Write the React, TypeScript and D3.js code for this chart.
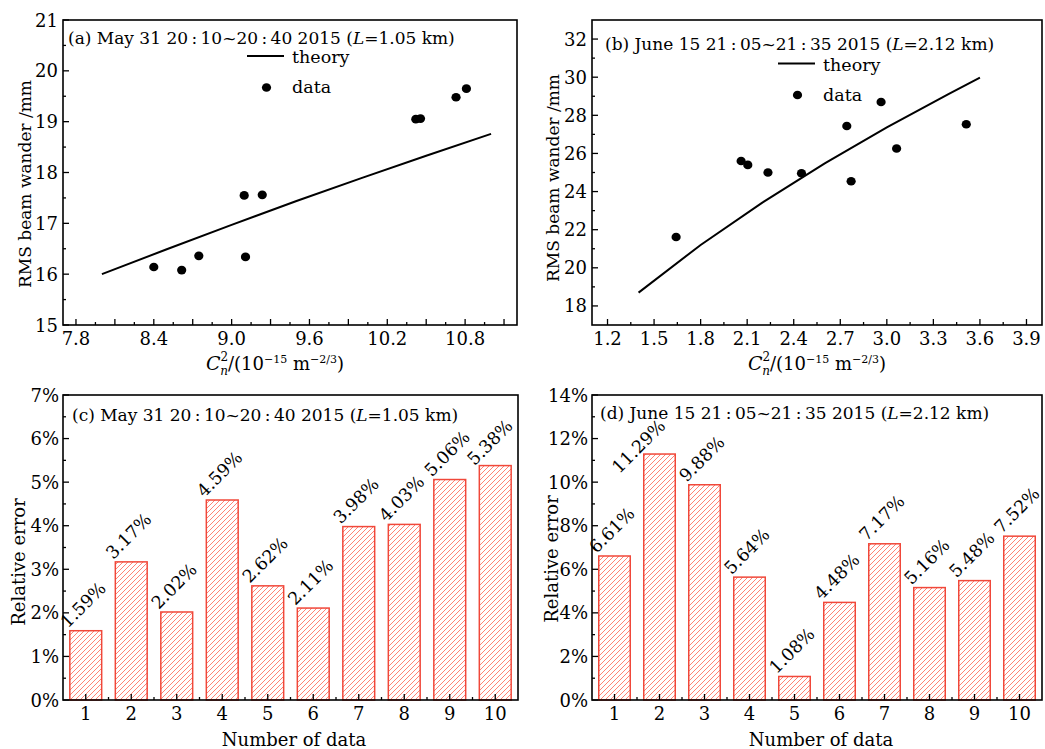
import React from 'react';
import * as d3 from 'd3';

// ---------- Data ----------
const panelAPointX = [8.40, 8.615, 8.747, 9.097, 9.107, 9.236, 10.42, 10.456, 10.73, 10.81];
const panelAPointY = [16.14, 16.08, 16.36, 17.55, 16.34, 17.56, 19.05, 19.06, 19.48, 19.65];
const panelATheoryX = [8.0, 8.5, 9.0, 9.5, 10.0, 10.5, 11.0];
const panelATheoryY = [16.0, 16.49, 16.97, 17.44, 17.89, 18.33, 18.76];

const panelBPointX = [1.642, 2.061, 2.104, 2.234, 2.45, 2.742, 2.77, 2.963, 3.063, 3.512];
const panelBPointY = [21.62, 25.6, 25.4, 25.0, 24.96, 27.44, 24.54, 28.7, 26.26, 27.53];
const panelBTheoryX = [1.4, 1.8, 2.2, 2.6, 3.0, 3.4, 3.6];
const panelBTheoryY = [18.7, 21.2, 23.43, 25.48, 27.37, 29.13, 29.98];

const dataNumbers = [1, 2, 3, 4, 5, 6, 7, 8, 9, 10];
const panelCErrors = [1.59, 3.17, 2.02, 4.59, 2.62, 2.11, 3.98, 4.03, 5.06, 5.38];
const panelDErrors = [6.61, 11.29, 9.88, 5.64, 1.08, 4.48, 7.17, 5.16, 5.48, 7.52];

// tick values
const aXLabels = [7.8, 8.4, 9.0, 9.6, 10.2, 10.8];
const aXMajor = [7.8, 8.1, 8.4, 8.7, 9.0, 9.3, 9.6, 9.9, 10.2, 10.5, 10.8, 11.1];
const aXMinor = [7.95, 8.25, 8.55, 8.85, 9.15, 9.45, 9.75, 10.05, 10.35, 10.65, 10.95];
const aYLabels = [15, 16, 17, 18, 19, 20, 21];
const aYMinor = [15.5, 16.5, 17.5, 18.5, 19.5, 20.5];

const bXLabels = [1.2, 1.5, 1.8, 2.1, 2.4, 2.7, 3.0, 3.3, 3.6, 3.9];
const bXMinor = [1.35, 1.65, 1.95, 2.25, 2.55, 2.85, 3.15, 3.45, 3.75];
const bYLabels = [18, 20, 22, 24, 26, 28, 30, 32];
const bYMinor = [19, 21, 23, 25, 27, 29, 31];

const cYLabels = [0, 1, 2, 3, 4, 5, 6, 7];
const cYMinor = [0.5, 1.5, 2.5, 3.5, 4.5, 5.5, 6.5];
const dYLabels = [0, 2, 4, 6, 8, 10, 12, 14];
const dYMinor = [1, 3, 5, 7, 9, 11, 13];
const barXMinor = [1.5, 2.5, 3.5, 4.5, 5.5, 6.5, 7.5, 8.5, 9.5];

const FONT = 'DejaVu Serif';
const BAR_RED = '#f0483a';
const HATCH_RED = '#ff7565';

type Box = { left: number; right: number; top: number; bottom: number };

function fmt1(v: number) {
  return v.toFixed(1);
}

function Title({ x, y, prefix, lval }: { x: number; y: number; prefix: string; lval: string }) {
  return (
    <text x={x} y={y} fontSize={17} fontFamily={FONT}>
      {prefix}
      <tspan fontStyle="italic">L</tspan>
      {'=' + lval + ' km)'}
    </text>
  );
}

function CnLabel({ x, y }: { x: number; y: number }) {
  return (
    <text x={x} y={y} fontSize={18} fontFamily={FONT} textAnchor="middle">
      <tspan fontStyle="italic" fontSize={19}>C</tspan>
      <tspan fontSize={12} dy={-9}>2</tspan>
      <tspan fontSize={12} fontStyle="italic" dx={-8} dy={14}>n</tspan>
      <tspan dy={-5}>{'/(10'}</tspan>
      <tspan fontSize={11} dy={-7}>{'\u221215'}</tspan>
      <tspan dy={7}>{' m'}</tspan>
      <tspan fontSize={11} dy={-7}>{'\u22122/3'}</tspan>
      <tspan dy={7}>{')'}</tspan>
    </text>
  );
}

type ScatterProps = {
  box: Box;
  xDomain: [number, number];
  yDomain: [number, number];
  xLabels: number[];
  xMajor: number[];
  xMinor: number[];
  yLabels: number[];
  yMinor: number[];
  px: number[];
  py: number[];
  tx: number[];
  ty: number[];
  titlePrefix: string;
  lval: string;
  titleX: number;
  titleY: number;
  legX: number;
  legY: number;
  yLabelX: number;
  yLabelY: number;
  xLabelX: number;
};

function ScatterPanel(p: ScatterProps) {
  const { box } = p;
  const x = d3.scaleLinear().domain(p.xDomain).range([box.left, box.right]);
  const y = d3.scaleLinear().domain(p.yDomain).range([box.bottom, box.top]);
  const line = d3
    .line<number>()
    .x((_, i) => x(p.tx[i]))
    .y((d) => y(d));
  return (
    <g>
      <path d={line(p.ty) || ''} fill="none" stroke="#000" strokeWidth={2} />
      {p.px.map((v, i) => (
        <ellipse key={i} cx={x(v)} cy={y(p.py[i])} rx={4.6} ry={4.3} fill="#000" />
      ))}
      <rect
        x={box.left}
        y={box.top}
        width={box.right - box.left}
        height={box.bottom - box.top}
        fill="none"
        stroke="#000"
        strokeWidth={1.6}
      />
      {p.xMajor.map((v) => (
        <line key={'xM' + v} x1={x(v)} x2={x(v)} y1={box.bottom} y2={box.bottom - 6} stroke="#000" strokeWidth={1.3} />
      ))}
      {p.xMinor.map((v) => (
        <line key={'xm' + v} x1={x(v)} x2={x(v)} y1={box.bottom} y2={box.bottom - 3} stroke="#000" strokeWidth={1.3} />
      ))}
      {p.xLabels.map((v) => (
        <text key={'xl' + v} x={x(v)} y={box.bottom + 20} fontSize={18} fontFamily={FONT} textAnchor="middle">
          {fmt1(v)}
        </text>
      ))}
      {p.yLabels.map((v) => (
        <g key={'yl' + v}>
          <line x1={box.left} x2={box.left + 6} y1={y(v)} y2={y(v)} stroke="#000" strokeWidth={1.3} />
          <text x={box.left - 5} y={y(v) + 6.5} fontSize={18} fontFamily={FONT} textAnchor="end">
            {v}
          </text>
        </g>
      ))}
      {p.yMinor.map((v) => (
        <line key={'ym' + v} x1={box.left} x2={box.left + 3} y1={y(v)} y2={y(v)} stroke="#000" strokeWidth={1.3} />
      ))}
      <Title x={p.titleX} y={p.titleY} prefix={p.titlePrefix} lval={p.lval} />
      <line x1={p.legX} x2={p.legX + 37} y1={p.legY} y2={p.legY} stroke="#000" strokeWidth={2} />
      <text x={p.legX + 45} y={p.legY + 7} fontSize={17.5} fontFamily={FONT}>
        theory
      </text>
      <ellipse cx={p.legX + 19.5} cy={p.legY + 31.5} rx={4.6} ry={4.3} fill="#000" />
      <text x={p.legX + 45} y={p.legY + 37} fontSize={17.5} fontFamily={FONT}>
        data
      </text>
      <text
        transform={`translate(${p.yLabelX},${p.yLabelY}) rotate(-90)`}
        fontSize={17}
        fontFamily={FONT}
        textAnchor="middle"
      >
        RMS beam wander /mm
      </text>
      <CnLabel x={p.xLabelX} y={370} />
    </g>
  );
}

type BarProps = {
  box: Box;
  yMax: number;
  values: number[];
  yLabels: number[];
  yMinor: number[];
  titlePrefix: string;
  lval: string;
  titleX: number;
  titleY: number;
  yLabelX: number;
  yLabelY: number;
  xLabelX: number;
};

function labelLength(s: string, fs: number) {
  let w = 0;
  for (const c of s) {
    if (c === '.') w += 0.318;
    else if (c === '%') w += 0.95;
    else w += 0.636;
  }
  return w * fs;
}

function BarPanel(p: BarProps) {
  const { box } = p;
  const x = d3.scaleLinear().domain([0.5, 10.5]).range([box.left, box.right]);
  const y = d3.scaleLinear().domain([0, p.yMax]).range([box.bottom, box.top]);
  const bw = x(0.35) - x(0);
  const titleBottom = box.top + 32;
  return (
    <g>
      {p.values.map((v, i) => {
        const n = dataNumbers[i];
        const cx = x(n);
        const top = y(v);
        const label = v.toFixed(2) + '%';
        let sx = cx - 18;
        let sy = top - 2;
        const L = labelLength(label, 17.5);
        const endY = sy - L / Math.SQRT2;
        if (endY < titleBottom) {
          const d = titleBottom - endY;
          sx -= d;
          sy += d;
        }
        return (
          <g key={i}>
            <rect
              x={cx - bw}
              y={top}
              width={bw * 2}
              height={box.bottom - top}
              fill="url(#hatch)"
              stroke={BAR_RED}
              strokeWidth={1.5}
            />
            <text
              transform={`translate(${sx},${sy}) rotate(-45)`}
              fontSize={17.5}
              fontFamily={FONT}
            >
              {label}
            </text>
          </g>
        );
      })}
      <rect
        x={box.left}
        y={box.top}
        width={box.right - box.left}
        height={box.bottom - box.top}
        fill="none"
        stroke="#000"
        strokeWidth={1.6}
      />
      {dataNumbers.map((n) => (
        <g key={'xt' + n}>
          <line x1={x(n)} x2={x(n)} y1={box.bottom} y2={box.bottom - 6} stroke="#000" strokeWidth={1.3} />
          <text x={x(n)} y={box.bottom + 20} fontSize={18} fontFamily={FONT} textAnchor="middle">
            {n}
          </text>
        </g>
      ))}
      {barXMinor.map((v) => (
        <line key={'xm' + v} x1={x(v)} x2={x(v)} y1={box.bottom} y2={box.bottom - 3} stroke="#000" strokeWidth={1.3} />
      ))}
      {p.yLabels.map((v) => (
        <g key={'yl' + v}>
          <line x1={box.left} x2={box.left + 6} y1={y(v)} y2={y(v)} stroke="#000" strokeWidth={1.3} />
          <text x={box.left - 4} y={y(v) + 6.5} fontSize={18} fontFamily={FONT} textAnchor="end">
            {v + '%'}
          </text>
        </g>
      ))}
      {p.yMinor.map((v) => (
        <line key={'ym' + v} x1={box.left} x2={box.left + 3} y1={y(v)} y2={y(v)} stroke="#000" strokeWidth={1.3} />
      ))}
      <Title x={p.titleX} y={p.titleY} prefix={p.titlePrefix} lval={p.lval} />
      <text
        transform={`translate(${p.yLabelX},${p.yLabelY}) rotate(-90)`}
        fontSize={18}
        fontFamily={FONT}
        textAnchor="middle"
      >
        Relative error
      </text>
      <text x={p.xLabelX} y={746} fontSize={18} fontFamily={FONT} textAnchor="middle">
        Number of data
      </text>
    </g>
  );
}

const colon = '\u2009:\u2009';

export default function App() {
  return (
    <svg
      width={1045}
      height={749}
      style={{ position: 'absolute', left: 0, top: 0, background: '#fff' }}
    >
      <defs>
        <pattern id="hatch" patternUnits="userSpaceOnUse" width={5} height={5}>
          <rect width={5} height={5} fill="#fff" />
          <path d="M0,5 L5,0 M-1,1 L1,-1 M4,6 L6,4" stroke={HATCH_RED} strokeWidth={0.9} />
        </pattern>
      </defs>
      <ScatterPanel
        box={{ left: 63, right: 517, top: 20, bottom: 325 }}
        xDomain={[7.7, 11.2]}
        yDomain={[15, 21]}
        xLabels={aXLabels}
        xMajor={aXMajor}
        xMinor={aXMinor}
        yLabels={aYLabels}
        yMinor={aYMinor}
        px={panelAPointX}
        py={panelAPointY}
        tx={panelATheoryX}
        ty={panelATheoryY}
        titlePrefix={`(a) May 31 20${colon}10~20${colon}40 2015 (`}
        lval="1.05"
        titleX={68}
        titleY={43.5}
        legX={247}
        legY={56}
        yLabelX={31}
        yLabelY={184}
        xLabelX={275}
      />
      <ScatterPanel
        box={{ left: 592, right: 1042, top: 20, bottom: 325 }}
        xDomain={[1.1, 4.0]}
        yDomain={[17, 33]}
        xLabels={bXLabels}
        xMajor={bXLabels}
        xMinor={bXMinor}
        yLabels={bYLabels}
        yMinor={bYMinor}
        px={panelBPointX}
        py={panelBPointY}
        tx={panelBTheoryX}
        ty={panelBTheoryY}
        titlePrefix={`(b) June 15 21${colon}05~21${colon}35 2015 (`}
        lval="2.12"
        titleX={605}
        titleY={50}
        legX={778}
        legY={63.5}
        yLabelX={559}
        yLabelY={178}
        xLabelX={817}
      />
      <BarPanel
        box={{ left: 63, right: 518, top: 395, bottom: 700 }}
        yMax={7}
        values={panelCErrors}
        yLabels={cYLabels}
        yMinor={cYMinor}
        titlePrefix={`(c) May 31 20${colon}10~20${colon}40 2015 (`}
        lval="1.05"
        titleX={72}
        titleY={421}
        yLabelX={25}
        yLabelY={562}
        xLabelX={294}
      />
      <BarPanel
        box={{ left: 592, right: 1042, top: 395, bottom: 700 }}
        yMax={14}
        values={panelDErrors}
        yLabels={dYLabels}
        yMinor={dYMinor}
        titlePrefix={`(d) June 15 21${colon}05~21${colon}35 2015 (`}
        lval="2.12"
        titleX={600}
        titleY={419}
        yLabelX={558}
        yLabelY={559}
        xLabelX={821}
      />
    </svg>
  );
}
